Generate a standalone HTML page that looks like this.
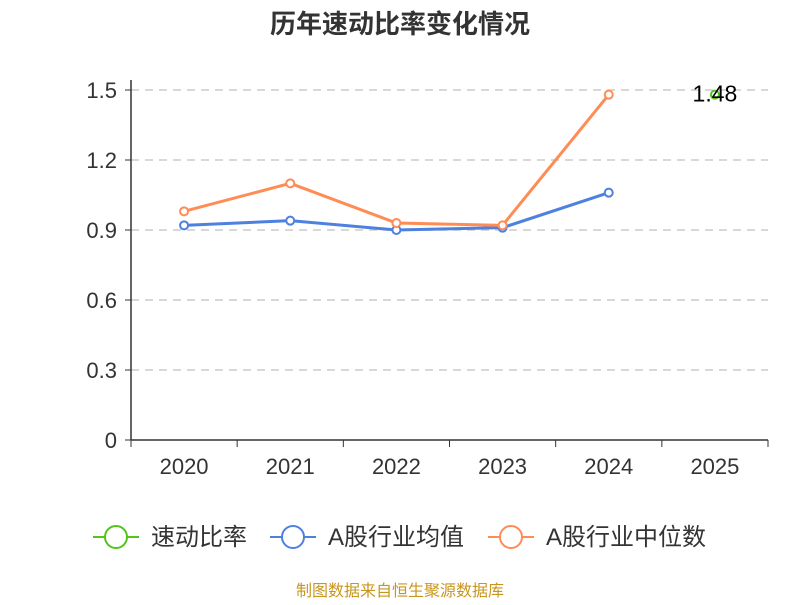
<!DOCTYPE html>
<html><head><meta charset="utf-8"><style>
body{margin:0;background:#fff}
svg text{font-family:"Liberation Sans","Noto Sans CJK SC",sans-serif}
</style></head><body>
<svg id="c" width="800" height="600" xmlns="http://www.w3.org/2000/svg">
<text x="400" y="33" text-anchor="middle" font-size="26" font-weight="bold" fill="#333">历年速动比率变化情况</text>
<g id="grid"></g><g id="axes"></g><g id="series"></g>
<g id="legend"></g>
<text x="400" y="596" text-anchor="middle" font-size="16" fill="#c8961e">制图数据来自恒生聚源数据库</text>
</svg>
<script>
const categories=['2020','2021','2022','2023','2024','2025'];
const yTicks=[0,0.3,0.6,0.9,1.2,1.5];
const yTickLabels=['0','0.3','0.6','0.9','1.2','1.5'];
const quickRatio=[null,null,null,null,null,1.48];
const industryMean=[0.92,0.94,0.90,0.91,1.06,null];
const industryMedian=[0.98,1.10,0.93,0.92,1.48,null];
const seriesNames=['速动比率','A股行业均值','A股行业中位数'];
const seriesColors=['#52c41a','#4e80e0','#ff8c55'];
const NS='http://www.w3.org/2000/svg';
const L=131,R=768,T=90,B=440,yMax=1.5;
const band=(R-L)/categories.length;
const x=i=>L+band*(i+0.5);
const y=v=>B-(v/yMax)*(B-T);
function mk(tag,attrs,parent,txt){const e=document.createElementNS(NS,tag);for(const k in attrs)e.setAttribute(k,attrs[k]);if(txt!=null)e.textContent=txt;parent.appendChild(e);return e;}
const grid=document.getElementById('grid'),axes=document.getElementById('axes'),ser=document.getElementById('series'),leg=document.getElementById('legend');
yTicks.forEach((t,i)=>{
 if(t>0){const g=mk('line',{x1:L,x2:R,y1:y(t),y2:y(t),stroke:'#ccc','stroke-dasharray':'8,6','stroke-width':1.5},grid);
 }
 const tk=mk('line',{x1:L-6,x2:L,y1:y(t),y2:y(t),stroke:'#333'},axes);
 
 const lb=mk('text',{x:L-14,y:y(t)+8,'text-anchor':'end','font-size':22,fill:'#333'},axes,yTickLabels[i]);
 
});
const ya=mk('line',{x1:L,x2:L,y1:T-10,y2:B,stroke:'#333','stroke-width':1.5},axes);

const xa=mk('line',{x1:L,x2:R,y1:B,y2:B,stroke:'#333','stroke-width':1.5},axes);

for(let i=0;i<=categories.length;i++){const tk=mk('line',{x1:L+band*i,x2:L+band*i,y1:B,y2:B+7,stroke:'#333'},axes);
 }
categories.forEach((c,i)=>{const lb=mk('text',{x:x(i),y:474,'text-anchor':'middle','font-size':22,fill:'#333'},axes,c);
 });
[quickRatio,industryMean,industryMedian].forEach((data,s)=>{
 const pts=[];data.forEach((v,i)=>{if(v!=null)pts.push([x(i),y(v)]);});
 if(pts.length>1){const p=mk('polyline',{points:pts.map(p=>p.join(',')).join(' '),fill:'none',stroke:seriesColors[s],'stroke-width':3},ser);
  }
 pts.forEach(p=>{const c=mk('circle',{cx:p[0],cy:p[1],r:4,fill:'#fff',stroke:seriesColors[s],'stroke-width':2},ser);
  });
});
quickRatio.forEach((v,i)=>{if(v!=null){const t=mk('text',{x:x(i),y:y(v)+7,'text-anchor':'middle','font-size':23,fill:'#000'},ser,v.toFixed(2));
 }});
const lx=[93,270,488];
seriesNames.forEach((n,s)=>{
 const g=mk('g',{},leg);
 mk('line',{x1:lx[s],x2:lx[s]+46,y1:537,y2:537,stroke:seriesColors[s],'stroke-width':2},g);
 mk('circle',{cx:lx[s]+23,cy:537,r:11,fill:'#fff',stroke:seriesColors[s],'stroke-width':2},g);
 mk('text',{x:lx[s]+58,y:545,'font-size':24,fill:'#333'},g,n);
});
</script>
</body></html>
